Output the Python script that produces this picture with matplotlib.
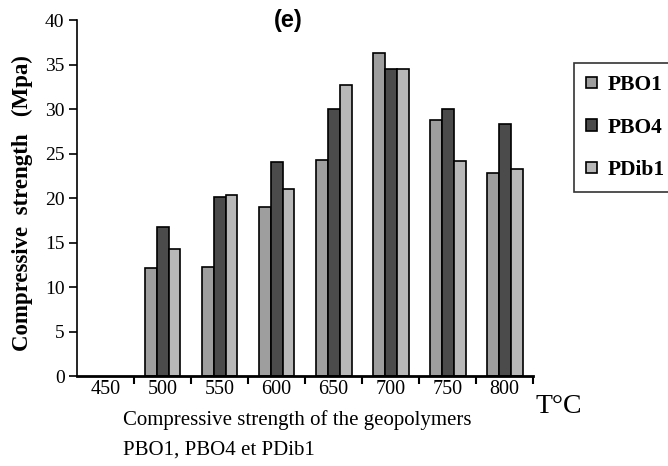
import numpy as np
import matplotlib.pyplot as plt
from matplotlib.ticker import FixedLocator, NullFormatter

# --- data (MPa) ---
temperatures = ['450', '500', '550', '600', '650', '700', '750', '800']
pbo1 = [0, 12.1, 12.3, 19.0, 24.3, 36.3, 28.8, 22.8]
pbo4 = [0, 16.7, 20.1, 24.0, 30.0, 34.5, 30.0, 28.3]
pdib1 = [0, 14.3, 20.3, 21.0, 32.7, 34.5, 24.2, 23.3]

series = {'PBO1': pbo1, 'PBO4': pbo4, 'PDib1': pdib1}
colors = ['#9e9e9e', '#4b4b4b', '#b8b8b8']

plt.rcParams.update({
    'font.family': 'Liberation Serif',
    'font.size': 14,
})

fig = plt.figure(figsize=(6.68, 4.66), dpi=100)
ax = fig.add_axes([0.1153, 0.193, 0.6827, 0.764])

x = np.arange(len(temperatures))
width = 0.21
for i, ((label, vals), color) in enumerate(zip(series.items(), colors)):
    vals = np.array(vals, dtype=float)
    mask = vals > 0
    ax.bar(x[mask] + (i - 1) * width, vals[mask], width=width, color=color,
           edgecolor='black', linewidth=1.2, label=label)

ax.set_xlim(-0.5, len(temperatures) - 0.5)
ax.set_ylim(0, 40)
ax.set_yticks(range(0, 41, 5))

# ticks on group boundaries, labels in the middle
ax.xaxis.set_major_locator(FixedLocator(np.arange(0.5, len(temperatures), 1.0)))
ax.xaxis.set_major_formatter(NullFormatter())
ax.xaxis.set_minor_locator(FixedLocator(x))
ax.set_xticklabels(temperatures, minor=True)
ax.tick_params(axis='x', which='major', direction='out', length=6, width=1.5)
ax.tick_params(axis='x', which='minor', length=0, pad=3, labelsize=14.5)
ax.tick_params(axis='y', direction='out', length=6, width=1.2, labelsize=14, pad=3)

for side in ['top', 'right']:
    ax.spines[side].set_visible(False)
ax.spines['left'].set_linewidth(1.2)
ax.spines['bottom'].set_linewidth(2)

# y label, placed by hand so it can sit far left like the original
fig.text(0.034, 0.565, 'Compressive  strength   (Mpa)', fontsize=16.5,
         fontweight='bold', rotation=90, ha='center', va='center')

fig.text(0.431, 0.957, '(e)', family='Liberation Sans', fontweight='bold',
         fontsize=17, ha='center', va='center')

fig.text(0.801, 0.127, 'T°C', fontsize=20, ha='left', va='center')
fig.text(0.184, 0.099, 'Compressive strength of the geopolymers', fontsize=15,
         ha='left', va='center')
fig.text(0.184, 0.034, 'PBO1, PBO4 et PDib1', fontsize=15,
         ha='left', va='center')

leg = ax.legend(loc='upper left', bbox_to_anchor=(1.09, 0.879), frameon=True,
                fancybox=False, edgecolor='black', handlelength=0.5,
                handleheight=0.45, handletextpad=0.5, labelspacing=1.05,
                borderpad=0.55, borderaxespad=0,
                prop={'family': 'Liberation Serif', 'weight': 'bold', 'size': 15.5})
leg.get_frame().set_linewidth(1.2)

fig.savefig('out.png', dpi=100)
